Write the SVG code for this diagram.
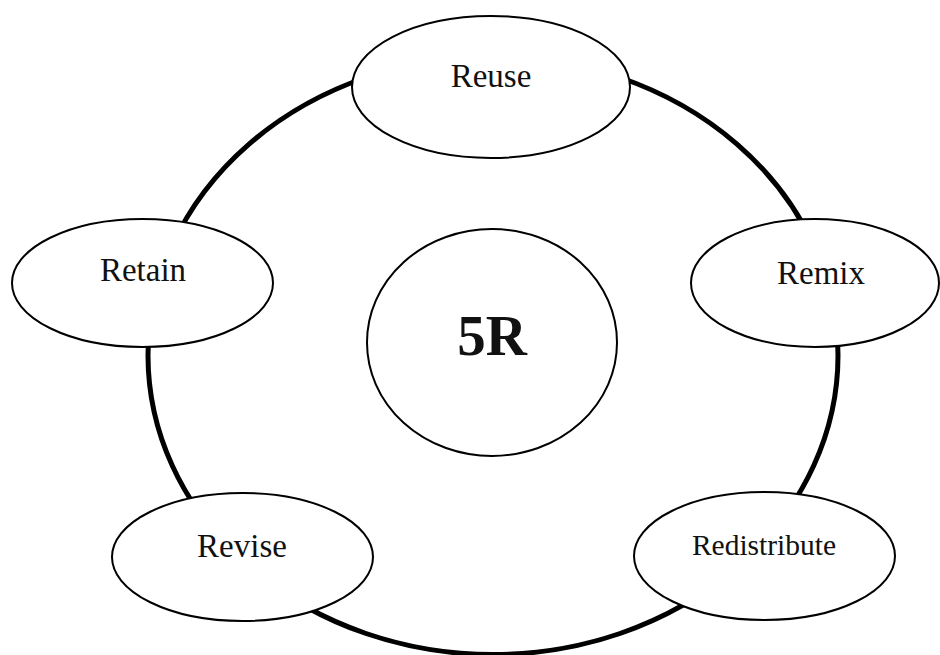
<svg xmlns="http://www.w3.org/2000/svg" width="940" height="655" viewBox="0 0 940 655">
<style>
.node{fill:#fff;stroke:#000;stroke-width:2}
.lbl{font-family:"Liberation Serif","Times New Roman",serif;font-size:33px;fill:#111;text-anchor:middle}
.ring{fill:none;stroke:#000;stroke-width:5}
</style>
<rect width="940" height="655" fill="#fff"/>
<g id="connectors">
<ellipse class="ring" cx="493" cy="355.5" rx="345" ry="299"/>
</g>
<g id="center">
<ellipse class="node" cx="492" cy="342.5" rx="125" ry="113.5"/>
<text class="lbl" x="492" y="355" style="font-size:57px;font-weight:bold">5R</text>
</g>
<g id="reuse">
<ellipse class="node" cx="491" cy="87" rx="139" ry="71"/>
<text class="lbl" x="491" y="87">Reuse</text>
</g>
<g id="retain">
<ellipse class="node" cx="142.5" cy="283" rx="130.5" ry="64"/>
<text class="lbl" x="143" y="281">Retain</text>
</g>
<g id="remix">
<ellipse class="node" cx="815" cy="283" rx="124" ry="64"/>
<text class="lbl" x="821" y="284">Remix</text>
</g>
<g id="revise">
<ellipse class="node" cx="242.5" cy="557" rx="130.5" ry="64"/>
<text class="lbl" x="242" y="557">Revise</text>
</g>
<g id="redistribute">
<ellipse class="node" cx="764.5" cy="556" rx="130.5" ry="64"/>
<text class="lbl" x="764" y="555" style="font-size:29.5px">Redistribute</text>
</g>
</svg>
